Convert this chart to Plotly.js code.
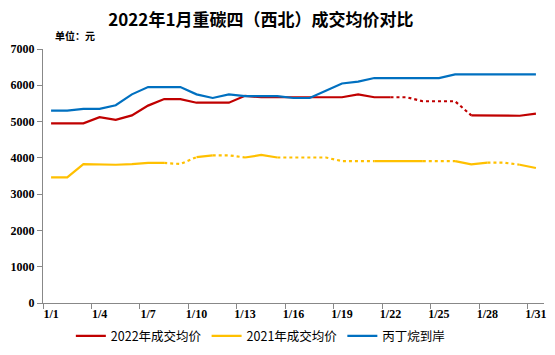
<!DOCTYPE html>
<html>
<head>
<meta charset="utf-8">
<script src="https://cdn.plot.ly/plotly-3.0.1.min.js"></script>
<style>html,body{margin:0;padding:0;background:#fff;}#chart{width:555px;height:355px;}</style>
</head>
<body>
<div id="chart"></div>
<script>
// ---- data ----
var days = ['1/1','1/2','1/3','1/4','1/5','1/6','1/7','1/8','1/9','1/10','1/11','1/12','1/13','1/14','1/15','1/16',
            '1/17','1/18','1/19','1/20','1/21','1/22','1/23','1/24','1/25','1/26','1/27','1/28','1/29','1/30','1/31'];
var price2022 = [4950,4950,4950,5120,5050,5170,5440,5620,5620,5520,5520,5520,5710,5670,5670,5670,
                 5670,5670,5670,5750,5670,5670,5670,5560,5560,5560,5170,5170,5180,5160,5220];
var price2021 = [3460,3460,3830,3810,3810,3830,3860,3860,3830,4020,4070,4070,4010,4080,4010,4010,
                 4010,4010,3910,3910,3910,3910,3910,3910,3910,3910,3820,3870,3870,3810,3720];
var propaneArrival = [5300,5300,5350,5350,5450,5750,5950,5950,5950,5750,5650,5750,5700,5700,5700,5650,
                      5650,5850,6050,6100,6200,6200,6200,6200,6200,6300,6300,6300,6300,6300,6300];
var seriesNames = ['2022年成交均价','2021年成交均价','丙丁烷到岸'];
var yTicks = [0,1000,2000,3000,4000,5000,6000,7000];

// ---- styling: segments drawn dotted (0-based day index ranges) ----
var dotted2022 = [[21,26]];
var dotted2021 = [[7,9],[10,12],[14,20],[23,25],[27,29]];
var dottedPropane = [];

function buildSegments(vals, dotted) {
  var n = vals.length, segs = [], pos = 0;
  dotted.forEach(function(d){
    if (d[0] > pos) segs.push({a:pos, b:d[0], dot:false});
    segs.push({a:d[0], b:d[1], dot:true});
    pos = d[1];
  });
  if (pos < n-1) segs.push({a:pos, b:n-1, dot:false});
  return segs;
}

var defs = [
  {vals:price2022, dotted:dotted2022, color:'#C00000', name:seriesNames[0]},
  {vals:price2021, dotted:dotted2021, color:'#FFC000', name:seriesNames[1]},
  {vals:propaneArrival, dotted:dottedPropane, color:'#0070C0', name:seriesNames[2]}
];

var traces = [];
defs.forEach(function(d, k){
  var segs = buildSegments(d.vals, d.dotted);
  var first = true;
  segs.forEach(function(s){
    traces.push({
      type:'scatter', mode:'lines',
      x: days.slice(s.a, s.b+1),
      y: d.vals.slice(s.a, s.b+1),
      name: d.name,
      legendgroup: 'g'+k,
      showlegend: first && !s.dot,
      line: {color:d.color, width:2.2, dash: s.dot ? 'dot' : 'solid'},
      hoverinfo:'skip'
    });
    if (!s.dot) first = false;
  });
});

var tickFont = {family:'"Liberation Serif", serif', size:12, color:'#000', weight:'bold'};

var layout = {
  width:555, height:355,
  margin:{l:43, r:11, t:49, b:52},
  paper_bgcolor:'#fff', plot_bgcolor:'#fff',
  title:{text:'<b>2022年1月重碳四（西北）成交均价对比</b>',
         font:{family:'"Noto Sans CJK SC", sans-serif', size:17, color:'#000'},
         xref:'container', x:0.47, xanchor:'center', yref:'container', y:0.944, yanchor:'middle'},
  xaxis:{type:'category', categoryorder:'array', categoryarray:days,
         range:[-0.5, 30.5], tickmode:'linear', tick0:0, dtick:3, tickson:'boundaries', tickangle:0,
         showline:true, linecolor:'#888', linewidth:1, ticks:'outside', ticklen:5, tickcolor:'#888',
         showgrid:false, zeroline:false, tickfont:tickFont, fixedrange:true},
  yaxis:{range:[0,7000], tickmode:'array', tickvals:yTicks, showline:true, linecolor:'#888', linewidth:1,
         ticks:'outside', ticklen:5, tickcolor:'#888', showgrid:false, zeroline:false,
         tickfont:tickFont, fixedrange:true},
  legend:{orientation:'h', x:0.47, xanchor:'center', xref:'container', y:0.053, yref:'container', yanchor:'middle',
          font:{family:'"Noto Sans CJK SC", sans-serif', size:12.5, color:'#000'},
          itemwidth:30, tracegroupgap:0, bgcolor:'rgba(0,0,0,0)'},
  annotations:[{text:'<b>单位：元</b>', xref:'paper', yref:'paper', x:0.02, y:1.055, xanchor:'left', yanchor:'middle',
                showarrow:false, font:{family:'"Noto Sans CJK SC", sans-serif', size:10, color:'#000'}}],
  showlegend:true
};

Plotly.newPlot('chart', traces, layout, {displayModeBar:false, staticPlot:true});
</script>
</body>
</html>
